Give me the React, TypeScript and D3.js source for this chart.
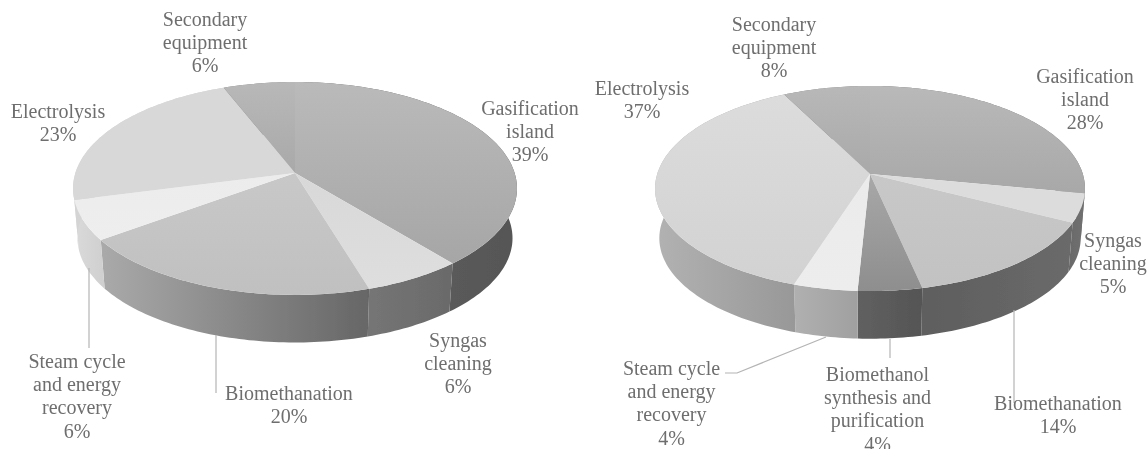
import React from "react";
import * as d3 from "d3";

const leftCategories = ["Gasification island", "Syngas cleaning", "Biomethanation", "Steam cycle and energy recovery", "Electrolysis", "Secondary equipment"];
const leftValues = [39, 6.3, 19.7, 6, 23, 6];
const rightCategories = ["Gasification island", "Syngas cleaning", "Biomethanation", "Biomethanol synthesis and purification", "Steam cycle and energy recovery", "Electrolysis", "Secondary equipment"];
const rightValues = [28, 4.5, 14.1, 4.2, 4.2, 37.5, 7.5];

// ---- label line breaks ----
const leftLines = [["Gasification", "island", "39%"], ["Syngas", "cleaning", "6%"], ["Biomethanation", "20%"], ["Steam cycle", "and energy", "recovery", "6%"], ["Electrolysis", "23%"], ["Secondary", "equipment", "6%"]];
const rightLines = [["Gasification", "island", "28%"], ["Syngas", "cleaning", "5%"], ["Biomethanation", "14%"], ["Biomethanol", "synthesis and", "purification", "4%"], ["Steam cycle", "and energy", "recovery", "4%"], ["Electrolysis", "37%"], ["Secondary", "equipment", "8%"]];

// ---- layout ----
const leftAnchors: [number, number][] = [[530, 115], [458, 347], [289, 400], [77, 368], [58, 118], [205, 26]];
const rightAnchors: [number, number][] = [[1085, 83], [1113, 247], [1058, 410], [877.5, 381], [671.5, 375], [642, 95], [774, 31]];
const leftLeaders: [number, number][][] = [[[89, 268], [89, 348]], [[216, 335], [216, 393]]];
const rightLeaders: [number, number][][] = [[[725, 373], [737, 373], [826, 337]], [[890, 339], [890, 358]], [[1014, 310], [1014, 403]]];

// ---- colours ----
const leftTop = [["#bababa", "#a6a6a6"], ["#d8d8d8", "#dedede"], ["#c8c8c8", "#c0c0c0"], ["#ececec", "#eeeeee"], ["#d8d8d8", "#d8d8d8"], ["#b8b8b8", "#a9a9a9"]];
const leftWall = [["#646464", "#565656"], ["#757575", "#6a6a6a"], ["#aaaaaa", "#666666"], ["#dadada", "#cfcfcf"], ["#d4d4d4", "#d4d4d4"], ["#808080", "#808080"]];
const rightTop = [["#b9b9b9", "#a8a8a8"], ["#dcdcdc", "#dcdcdc"], ["#c8c8c8", "#c2c2c2"], ["#a8a8a8", "#8e8e8e"], ["#ebebeb", "#ededed"], ["#dcdcdc", "#d2d2d2"], ["#b8b8b8", "#a9a9a9"]];
const rightWall = [["#707070", "#707070"], ["#6a6a6a", "#707070"], ["#5e5e5e", "#6a6a6a"], ["#606060", "#555555"], ["#b0b0b0", "#a0a0a0"], ["#b2b2b2", "#989898"], ["#808080", "#808080"]];

const TEXT = "#6e6e6e";
const LEADER = "#b4b4b4";
const FONT_SIZE = 20;
const LINE_H = 23.2;

type Geom = { cx: number; cy: number; A: number; B: number; p: number; depth: number; shrink: number };
const leftGeom: Geom = { cx: 295, cy: 173, A: 219.6, B: 104.2, p: 0.1453, depth: 50, shrink: 0.98 };
const rightGeom: Geom = { cx: 870, cy: 174, A: 212.8, B: 100.5, p: 0.1416, depth: 50, shrink: 0.98 };

// perspective projection of a point on a unit circle, angle clockwise from 12 o'clock
function project(g: Geom, a: number, lower: boolean): [number, number] {
  const u = Math.sin(a);
  const v = Math.cos(a);
  const w = 1 + g.p * v;
  const s = lower ? g.shrink : 1;
  return [g.cx + (s * g.A * u) / w, g.cy + (lower ? g.depth : 0) - (s * g.B * v) / w];
}

const line = d3.line<[number, number]>().curve(d3.curveLinear);

function arcPts(g: Geom, a0: number, a1: number, lower: boolean) {
  const steps = Math.max(4, Math.ceil(Math.abs(a1 - a0) / 0.02));
  return d3.range(steps + 1).map((i) => project(g, a0 + ((a1 - a0) * i) / steps, lower));
}

function Pie({ id, g, cats, vals, lines, anchors, leaders, topCols, wallCols }: any) {
  const arcs = d3.pie<number>().sort(null).startAngle(0).endAngle(2 * Math.PI)(vals);
  return (
    <g filter="url(#soft)">
      <defs>
        {arcs.map((_: any, i: number) => (
          <React.Fragment key={i}>
            <linearGradient id={`${id}t${i}`} x1="0" y1="0" x2="0" y2="1">
              <stop offset="0" stopColor={topCols[i][0]} />
              <stop offset="1" stopColor={topCols[i][1]} />
            </linearGradient>
            <linearGradient id={`${id}w${i}`} x1="0" y1="0" x2="1" y2="0">
              <stop offset="0" stopColor={wallCols[i][0]} />
              <stop offset="1" stopColor={wallCols[i][1]} />
            </linearGradient>
          </React.Fragment>
        ))}
      </defs>
      {arcs.map((d: any, i: number) => {
        const up = arcPts(g, d.startAngle, d.endAngle, false);
        const low = arcPts(g, d.startAngle, d.endAngle, true).reverse();
        return <path key={`w${i}`} data-cat={cats[i]} d={line([...up, ...low])! + "Z"} fill={`url(#${id}w${i})`} />;
      })}
      {arcs.map((d: any, i: number) => {
        const rim = arcPts(g, d.startAngle, d.endAngle, false);
        return <path key={`t${i}`} data-cat={cats[i]} d={line([[g.cx, g.cy], ...rim])! + "Z"} fill={`url(#${id}t${i})`} />;
      })}
      {leaders.map((l: [number, number][], i: number) => (
        <path key={`l${i}`} d={line(l)!} fill="none" stroke={LEADER} strokeWidth={1.2} />
      ))}
      {lines.map((ls: string[], i: number) => (
        <text key={`x${i}`} textAnchor="middle" fontFamily="'Liberation Serif', serif" fontSize={FONT_SIZE} fill={TEXT}>
          {ls.map((t, j) => (
            <tspan key={j} x={anchors[i][0]} y={anchors[i][1] + j * LINE_H}>{t}</tspan>
          ))}
        </text>
      ))}
    </g>
  );
}

export default function App() {
  return (
    <svg width={1148} height={449} viewBox="0 0 1148 449" style={{ position: "absolute", left: 0, top: 0, background: "#fff" }}>
      <defs>
        <filter id="soft" x="0" y="0" width="1148" height="449" filterUnits="userSpaceOnUse">
          <feGaussianBlur stdDeviation="0.35" />
        </filter>
      </defs>
      <Pie id="L" g={leftGeom} cats={leftCategories} vals={leftValues} lines={leftLines} anchors={leftAnchors} leaders={leftLeaders} topCols={leftTop} wallCols={leftWall} />
      <Pie id="R" g={rightGeom} cats={rightCategories} vals={rightValues} lines={rightLines} anchors={rightAnchors} leaders={rightLeaders} topCols={rightTop} wallCols={rightWall} />
    </svg>
  );
}
